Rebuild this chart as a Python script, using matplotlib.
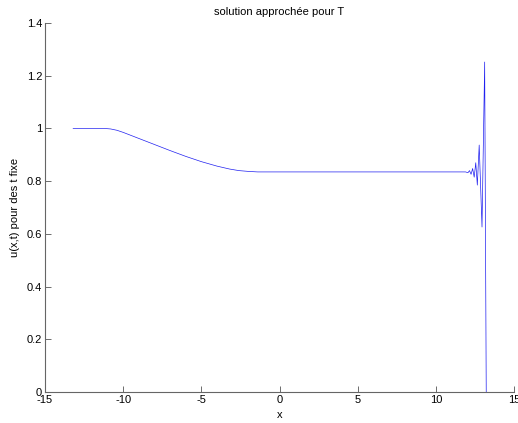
import matplotlib
matplotlib.use("Agg")
import matplotlib.pyplot as plt

plt.rcParams['font.family'] = ['Liberation Sans', 'DejaVu Sans']

# smooth part of the solution
x_smooth = [-13.2, -12.0, -11.2, -10.8, -10.4, -10.0, -9.0, -8.0, -7.0, -6.0, -5.0,
            -4.0, -3.2, -2.6, -2.0, -1.4, -0.5, 2.0, 6.0, 10.0, 11.9]
u_smooth = [1.0, 1.0, 1.0, 0.998, 0.993, 0.985, 0.962, 0.939, 0.916, 0.894, 0.874,
            0.857, 0.846, 0.840, 0.837, 0.835, 0.835, 0.835, 0.835, 0.835, 0.835]

# oscillating part near the right boundary
x_osc = [12.05, 12.15, 12.25, 12.35, 12.45, 12.55, 12.65, 12.77, 12.95, 13.12, 13.22]
u_osc = [0.832, 0.840, 0.826, 0.848, 0.815, 0.870, 0.785, 0.937, 0.626, 1.252, 0.0]

x = x_smooth + x_osc
u = u_smooth + u_osc

fig = plt.figure(figsize=(5.18, 4.23), dpi=100)
ax = fig.add_axes([0.0869, 0.0733, 0.9055, 0.8723])
ax.plot(x, u, color='#2020f0', linewidth=0.5)

ax.set_xlim(-15, 15)
ax.set_ylim(0, 1.4)
ax.set_xticks([-15, -10, -5, 0, 5, 10, 15])
ax.set_yticks([0, 0.2, 0.4, 0.6, 0.8, 1.0, 1.2, 1.4])
ax.set_yticklabels(['0', '0.2', '0.4', '0.6', '0.8', '1', '1.2', '1.4'])
ax.set_xticklabels(['-15', '-10', '-5', '0', '5', '10', '15'])
ax.tick_params(direction='in', length=4, width=0.6, labelsize=8, color='#555555', pad=2)
for s in ['top', 'right']:
    ax.spines[s].set_visible(False)
for s in ['left', 'bottom']:
    ax.spines[s].set_color('#666666')
    ax.spines[s].set_linewidth(0.8)

ax.set_title('solution approchée pour T', fontsize=8, pad=6)
ax.set_xlabel('x', fontsize=8, labelpad=4)
ax.set_ylabel('u(x,t) pour des t fixe', fontsize=8, labelpad=5)

fig.savefig('out.png', dpi=100)
